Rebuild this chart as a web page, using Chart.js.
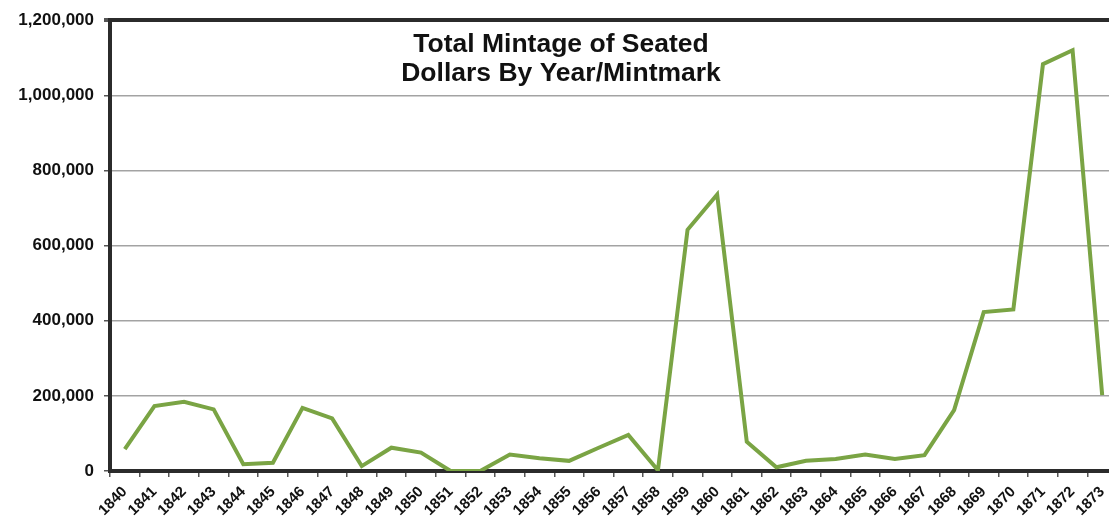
<!DOCTYPE html>
<html>
<head>
<meta charset="utf-8">
<script src="https://cdn.jsdelivr.net/npm/chart.js@4"></script>
<style>
  html, body { margin: 0; padding: 0; background: #fff; overflow: hidden; }
  #wrap { position: absolute; left: 0; top: 0; width: 1125px; height: 522px; }
</style>
</head>
<body>
<div id="wrap"><canvas id="mintage"></canvas></div>
<script>
// years on the x axis
var years = ["1840", "1841", "1842", "1843", "1844", "1845", "1846", "1847", "1848", "1849",
             "1850", "1851", "1852", "1853", "1854", "1855", "1856", "1857", "1858", "1859",
             "1860", "1861", "1862", "1863", "1864", "1865", "1866", "1867", "1868", "1869",
             "1870", "1871", "1872", "1873"];

// total mintage per year
var mintage = [58000, 173000, 184000, 164000, 18000, 22000, 168000, 140000, 13000, 62000,
               49000, 0, 0, 44000, 34000, 27000, 62000, 96000, 2000, 642000,
               736000, 78000, 10000, 27000, 32000, 44000, 32000, 42000, 162000, 423000,
               430000, 1083000, 1120000, 202000];

var yTicks = [0, 200000, 400000, 600000, 800000, 1000000, 1200000];

var titleLines = ["Total Mintage of Seated", "Dollars By Year/Mintmark"];

// title sits inside the plot area, slightly left of centre
var insideTitle = {
    id: 'insideTitle',
    afterDraw: function(chart) {
        var ctx = chart.ctx;
        ctx.save();
        ctx.fillStyle = '#111';
        ctx.font = 'bold 25px "Liberation Sans", Arial, sans-serif';
        ctx.textAlign = 'center';
        ctx.textBaseline = 'middle';
        ctx.translate(561, 0);
        ctx.scale(1.06, 1);
        for (var i = 0; i < titleLines.length; i++) {
            ctx.fillText(titleLines[i], 0, 45 + i * 29);
        }
        ctx.restore();
    }
};

var axisColor = '#2b2b2b';
var gridColor = '#a3a3a3';

new Chart(document.getElementById('mintage'), {
    type: 'line',
    data: {
        labels: years,
        datasets: [{
            label: 'Mintage',
            data: mintage,
            borderColor: '#7aa444',
            borderWidth: 4,
            pointRadius: 0,
            tension: 0,
            fill: false
        }]
    },
    options: {
        responsive: true,
        maintainAspectRatio: false,
        animation: false,
        layout: { padding: { top: 17, right: 8, left: 0, bottom: 0 } },
        plugins: {
            legend: { display: false },
            tooltip: { enabled: false }
        },
        scales: {
            x: {
                offset: true,
                grid: {
                    offset: true,
                    drawOnChartArea: false,
                    drawTicks: true,
                    tickLength: 6,
                    color: '#555',
                    lineWidth: 1.5
                },
                border: { color: axisColor, width: 4 },
                ticks: {
                    autoSkip: false,
                    minRotation: 45,
                    maxRotation: 45,
                    padding: 6,
                    color: '#111',
                    font: { family: '"Liberation Sans", Arial, sans-serif', size: 15, weight: 'bold' }
                },
                afterFit: function(scale) { scale.height = 51; }
            },
            y: {
                min: 0,
                max: 1200000,
                afterBuildTicks: function(scale) {
                    scale.ticks = yTicks.map(function(v) { return { value: v }; });
                },
                grid: {
                    color: function(c) { return c.tick && c.tick.value === 1200000 ? axisColor : gridColor; },
                    lineWidth: function(c) { return c.tick && c.tick.value === 1200000 ? 4 : 1.5; },
                    tickLength: 6,
                    tickColor: '#555'
                },
                border: { color: axisColor, width: 4 },
                ticks: {
                    padding: 10,
                    color: '#111',
                    font: { family: '"Liberation Sans", Arial, sans-serif', size: 17, weight: 'bold' },
                    callback: function(v) { return v.toLocaleString('en-US'); }
                },
                afterFit: function(scale) { scale.width = 110; }
            }
        }
    },
    plugins: [insideTitle]
});
</script>
</body>
</html>
